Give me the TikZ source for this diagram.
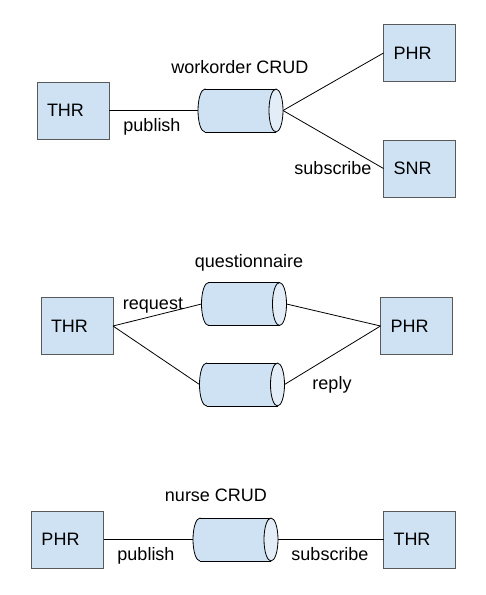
\documentclass[tikz,border=0pt]{standalone}
\usepackage{fontspec}
\setmainfont{Liberation Sans}
\definecolor{boxfill}{HTML}{CFE2F3}
\definecolor{endfill}{HTML}{E3EDF8}
\definecolor{boxline}{HTML}{595959}
\tikzset{
  box/.style={draw=boxline, fill=boxfill, line width=0.9pt, minimum height=57pt,
    text width=52pt, align=left, inner xsep=10pt, inner ysep=0pt, outer sep=0pt,
    font=\fontsize{18}{20}\selectfont},
  cyl/.style={minimum width=85pt, minimum height=43pt, inner sep=0pt, outer sep=0pt},
  lbl/.style={anchor=base, inner sep=0pt, font=\fontsize{18}{20}\selectfont},
  wire/.style={draw=black, line width=0.8pt},
  cylface/.style={fill=boxfill, draw=black, line width=0.8pt},
  cylend/.style={fill=endfill, draw=black, line width=0.8pt}
}
\newcommand\drawcyl[1]{%
  \path[cylface] ([xshift=7pt]#1.west) ellipse[x radius=7pt, y radius=21.5pt];
  \fill[boxfill] ([xshift=7pt]#1.north west) rectangle ([xshift=-7pt]#1.south east);
  \draw[line width=0.8pt] ([xshift=7pt]#1.north west) -- ([xshift=-7pt]#1.north east);
  \draw[line width=0.8pt] ([xshift=7pt]#1.south west) -- ([xshift=-7pt]#1.south east);
  \path[cylend] ([xshift=-7pt]#1.east) ellipse[x radius=7pt, y radius=21.5pt];}
\begin{document}
\begin{tikzpicture}[x=1pt, y=-1pt]
\useasboundingbox (0,0) rectangle (486,595);
% ---- diagram 1
\node[box] (thrA) at (73,110.5) {THR};
\node[box] (phrA) at (419.5,53) {PHR};
\node[box] (snr) at (419.5,168.5) {SNR};
\node[cyl] (cA) at (240.5,110.5) {};
\path[wire] (thrA.east) -- (cA.west);
\path[wire] (cA.east) -- (phrA.west);
\path[wire] (cA.east) -- (snr.west);
\drawcyl{cA}
\node[lbl] (tA) at (240,73.3) {workorder CRUD};
\node[lbl] (pA) at (152,131) {publish};
\node[lbl] (sA) at (333,174) {subscribe};
% ---- diagram 2
\node[box] (thrB) at (77,326) {THR};
\node[box] (phrB) at (416.5,326) {PHR};
\node[cyl] (cB) at (244,304) {};
\node[cyl] (cC) at (242,384.5) {};
\path[wire] (thrB.east) -- (cB.west);
\path[wire] (thrB.east) -- (cC.west);
\path[wire] (cB.east) -- (phrB.west);
\path[wire] (cC.east) -- (phrB.west);
\drawcyl{cB}
\drawcyl{cC}
\node[lbl] (tB) at (249,267.3) {questionnaire};
\node[lbl] (rq) at (153,309) {request};
\node[lbl] (rp) at (332,389) {reply};
% ---- diagram 3
\node[box] (phrC) at (67.5,539.5) {PHR};
\node[box] (thrC) at (419.5,539.5) {THR};
\node[cyl] (cD) at (235.5,539.5) {};
\path[wire] (phrC.east) -- (cD.west);
\path[wire] (cD.east) -- (thrC.west);
\drawcyl{cD}
\node[lbl] (tC) at (216,501.7) {nurse CRUD};
\node[lbl] (pC) at (146,560) {publish};
\node[lbl] (sC) at (330,560) {subscribe};
\end{tikzpicture}
\end{document}
